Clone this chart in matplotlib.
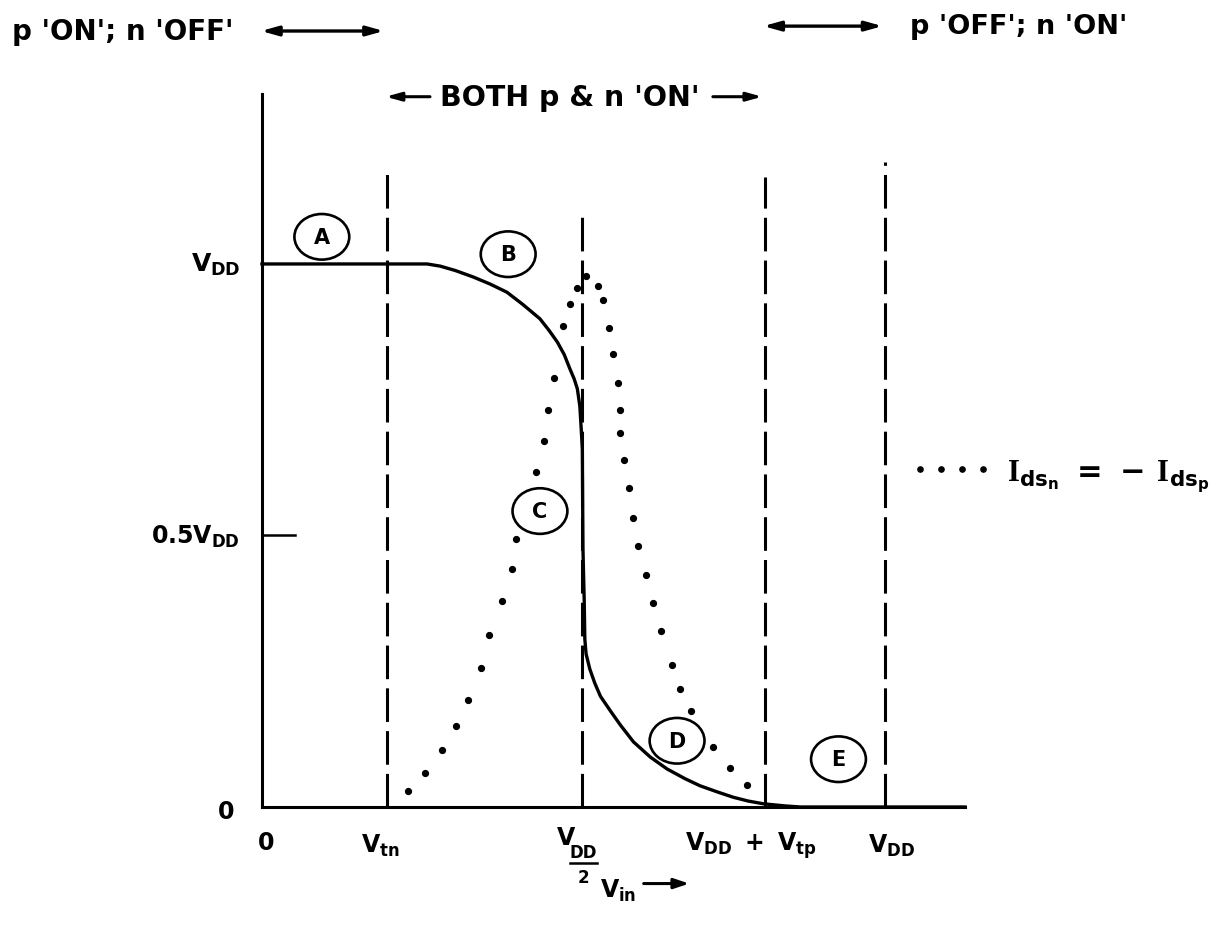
import matplotlib
matplotlib.use("Agg")
import matplotlib.pyplot as plt
from matplotlib.patches import Ellipse

plt.rcParams["font.family"] = ["DejaVu Sans"]
plt.rcParams["font.weight"] = "bold"
plt.rcParams["mathtext.fontset"] = "custom"
plt.rcParams["mathtext.rm"] = "DejaVu Sans:bold"
plt.rcParams["mathtext.it"] = "DejaVu Sans:bold"
plt.rcParams["mathtext.bf"] = "DejaVu Sans:bold"
plt.rcParams["mathtext.tt"] = "Liberation Serif"

# Vout transfer curve (fractions of VDD), Vin in fractions of VDD
vin_curve = [0.0, 0.265, 0.286, 0.310, 0.339, 0.366, 0.393, 0.419, 0.446, 0.461,
             0.474, 0.485, 0.494, 0.501, 0.506, 0.510, 0.512, 0.514, 0.515, 0.517,
             0.518, 0.520, 0.526, 0.534, 0.543, 0.559, 0.575, 0.596, 0.623, 0.650,
             0.679, 0.703, 0.730, 0.756, 0.780, 0.804, 0.839, 0.864, 1.128]
vout_curve = [1.0, 1.0, 0.996, 0.988, 0.976, 0.963, 0.948, 0.925, 0.899, 0.877,
              0.856, 0.833, 0.807, 0.788, 0.770, 0.738, 0.700, 0.659, 0.475, 0.380,
              0.309, 0.282, 0.254, 0.228, 0.204, 0.177, 0.151, 0.120, 0.092, 0.070,
              0.052, 0.039, 0.028, 0.018, 0.011, 0.006, 0.002, 0.0, 0.0]

# short-circuit current Idsn = -Idsp (relative scale)
vin_current = [0.234, 0.262, 0.289, 0.311, 0.331, 0.352, 0.364, 0.385, 0.401, 0.408,
               0.440, 0.453, 0.459, 0.469, 0.483, 0.494, 0.506, 0.520,
               0.539, 0.547, 0.557, 0.563, 0.571, 0.575, 0.575, 0.581, 0.589, 0.596,
               0.604, 0.616, 0.628, 0.640, 0.658, 0.671, 0.689, 0.724, 0.751, 0.778]
i_current = [0.029, 0.063, 0.105, 0.149, 0.197, 0.256, 0.317, 0.379, 0.438, 0.494,
             0.617, 0.674, 0.731, 0.790, 0.886, 0.926, 0.956, 0.978,
             0.959, 0.934, 0.882, 0.834, 0.781, 0.731, 0.689, 0.639, 0.587, 0.532,
             0.481, 0.427, 0.376, 0.324, 0.262, 0.217, 0.177, 0.110, 0.072, 0.041]

# region boundaries: Vtn, VDD/2, VDD+Vtp, VDD
boundary_x = [0.2, 0.514, 0.807, 1.0]
boundary_top = [1.175, 1.096, 1.160, 1.188]
boundary_labels = [r"$V_{tn}$", None, r"$V_{DD}\ +\ V_{tp}$", r"$V_{DD}$"]
label_x = [0.19, 0.514, 0.785, 1.01]

region_names = ["A", "B", "C", "D", "E"]
region_x = [0.096, 0.395, 0.446, 0.666, 0.925]
region_y = [1.050, 1.018, 0.545, 0.122, 0.088]

fig = plt.figure(figsize=(12.1, 9.37), dpi=100)
ax = fig.add_axes([262 / 1210, 1 - 808 / 937, 703 / 1210, 713 / 937])
ax.set_xlim(0, 1.128)
ax.set_ylim(0, 1.313)
for side in ("top", "right"):
    ax.spines[side].set_visible(False)
for side in ("left", "bottom"):
    ax.spines[side].set_linewidth(2.2)
ax.set_xticks([])
ax.set_yticks([])

# dashed region boundaries
for bx, top in zip(boundary_x, boundary_top):
    ax.plot([bx, bx], [0, top], color="black", lw=2.2, dashes=(11, 3),
            clip_on=False, solid_capstyle="butt", dash_capstyle="butt")

# transfer characteristic
ax.plot(vin_curve, vout_curve, color="black", lw=2.4, clip_on=False,
        solid_joinstyle="round")

# current dots
ax.plot(vin_current, i_current, linestyle="none", marker="o", ms=4.2,
        color="black", label=r"$\mathtt{I}_{ds_n}\ =\,-\,\mathtt{I}_{ds_p}$")

# 0.5 VDD tick
ax.plot([0, 0.053], [0.5, 0.5], color="black", lw=1.8)

# circled region labels
for name, cx, cy in zip(region_names, region_x, region_y):
    ax.add_patch(Ellipse((cx, cy), 0.088, 0.084, fill=False, lw=1.9,
                         color="black", clip_on=False))
    ax.text(cx, cy, name, ha="center", va="center", fontsize=15)

# y axis labels
ax.text(-0.035, 1.0, r"$V_{DD}$", ha="right", va="center", fontsize=18)
ax.text(-0.035, 0.5, r"$0.5V_{DD}$", ha="right", va="center", fontsize=17)
ax.text(-0.045, -0.008, "0", ha="right", va="center", fontsize=17)

# x axis labels
ax.text(0.006, -0.064, "0", ha="center", va="center", fontsize=17)
for lx, lab in zip(label_x, boundary_labels):
    if lab is not None:
        ax.text(lx, -0.07, lab, ha="center", va="center", fontsize=17)
# VDD over 2
ax.text(0.488, -0.055, "V", ha="center", va="center", fontsize=17)
ax.text(0.516, -0.083, "DD", ha="center", va="center", fontsize=12)
ax.plot([0.494, 0.538], [-0.104, -0.104], color="black", lw=1.8, clip_on=False)
ax.text(0.516, -0.128, "2", ha="center", va="center", fontsize=12)

ax.text(0.572, -0.153, r"$V_{in}$", ha="center", va="center", fontsize=17)
ax.annotate("", xy=(0.690, -0.141), xytext=(0.608, -0.141), annotation_clip=False,
            arrowprops=dict(arrowstyle="-|>,head_length=0.9,head_width=0.3",
                            color="black", lw=2.2))

# operating region annotations above the plot
ax.text(-0.401, 1.429, "p 'ON'; n 'OFF'", ha="left", va="center", fontsize=20)
ax.annotate("", xy=(0.2, 1.429), xytext=(-0.006, 1.429), annotation_clip=False,
            arrowprops=dict(arrowstyle="<|-|>,head_length=1.0,head_width=0.28",
                            color="black", lw=2.4))
ax.annotate("", xy=(1.0, 1.438), xytext=(0.8, 1.438), annotation_clip=False,
            arrowprops=dict(arrowstyle="<|-|>,head_length=1.0,head_width=0.28",
                            color="black", lw=2.4))
ax.text(1.040, 1.438, "p 'OFF'; n 'ON'", ha="left", va="center", fontsize=19.5)

ax.text(0.286, 1.308, "BOTH p & n 'ON'", ha="left", va="center", fontsize=20.5)
ax.annotate("", xy=(0.194, 1.308), xytext=(0.274, 1.308), annotation_clip=False,
            arrowprops=dict(arrowstyle="-|>,head_length=0.9,head_width=0.25",
                            color="black", lw=2.2))
ax.annotate("", xy=(0.807, 1.308), xytext=(0.719, 1.308), annotation_clip=False,
            arrowprops=dict(arrowstyle="-|>,head_length=0.9,head_width=0.25",
                            color="black", lw=2.2))

ax.legend(loc="center left", bbox_to_anchor=(0.923, 0.465), numpoints=4,
          frameon=False, handlelength=2.65, handletextpad=0.5, borderpad=0,
          borderaxespad=0, fontsize=22, markerscale=0.9)

fig.savefig("out.png", dpi=100)
